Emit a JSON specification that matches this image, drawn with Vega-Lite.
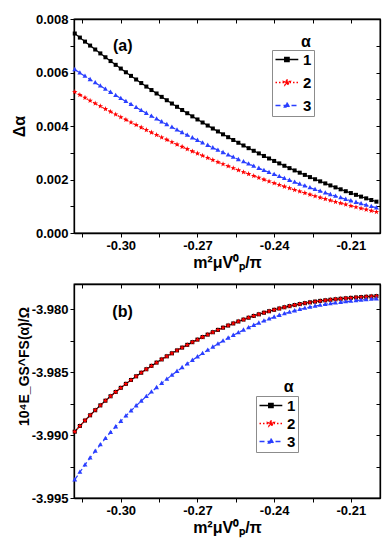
{
"$schema": "https://vega.github.io/schema/vega-lite/v6.json",
"padding": {"left": 10, "top": 12, "right": 8, "bottom": 14},
"config": {
 "locale": {"number": {"decimal": ".", "thousands": ",", "grouping": [3], "currency": ["", ""], "minus": "-"}},
 "view": {"stroke": "black", "strokeWidth": 1.3},
 "axis": {"labelFont": "Liberation Sans", "labelFontWeight": "bold", "labelFontSize": 13, "labelColor": "black", "titleFont": "Liberation Sans", "titleFontWeight": "bold", "titleFontSize": 16, "titleColor": "black", "domainColor": "black", "domainWidth": 1.3, "tickColor": "black", "tickWidth": 1, "tickSize": 4, "grid": false, "labelPadding": 2}
},
"datasets": {
"ta": [
{"x":-0.318,"a":"1","y":0.0074573},{"x":-0.316,"a":"1","y":0.0073055},{"x":-0.314,"a":"1","y":0.0071552},{"x":-0.312,"a":"1","y":0.0070065},{"x":-0.31,"a":"1","y":0.0068594},{"x":-0.308,"a":"1","y":0.0067138},{"x":-0.306,"a":"1","y":0.0065698},{"x":-0.304,"a":"1","y":0.0064273},{"x":-0.302,"a":"1","y":0.0062865},{"x":-0.3,"a":"1","y":0.0061471},
{"x":-0.298,"a":"1","y":0.0060094},{"x":-0.296,"a":"1","y":0.0058732},{"x":-0.294,"a":"1","y":0.0057385},{"x":-0.292,"a":"1","y":0.0056054},{"x":-0.29,"a":"1","y":0.0054739},{"x":-0.288,"a":"1","y":0.005344},{"x":-0.286,"a":"1","y":0.0052156},{"x":-0.284,"a":"1","y":0.0050887},{"x":-0.282,"a":"1","y":0.0049634},{"x":-0.28,"a":"1","y":0.0048397},
{"x":-0.278,"a":"1","y":0.0047176},{"x":-0.276,"a":"1","y":0.004597},{"x":-0.274,"a":"1","y":0.004478},{"x":-0.272,"a":"1","y":0.0043605},{"x":-0.27,"a":"1","y":0.0042446},{"x":-0.268,"a":"1","y":0.0041302},{"x":-0.266,"a":"1","y":0.0040175},{"x":-0.264,"a":"1","y":0.0039062},{"x":-0.262,"a":"1","y":0.0037966},{"x":-0.26,"a":"1","y":0.0036885},
{"x":-0.258,"a":"1","y":0.0035819},{"x":-0.256,"a":"1","y":0.003477},{"x":-0.254,"a":"1","y":0.0033735},{"x":-0.252,"a":"1","y":0.0032717},{"x":-0.25,"a":"1","y":0.0031714},{"x":-0.248,"a":"1","y":0.0030727},{"x":-0.246,"a":"1","y":0.0029755},{"x":-0.244,"a":"1","y":0.0028799},{"x":-0.242,"a":"1","y":0.0027858},{"x":-0.24,"a":"1","y":0.0026933},
{"x":-0.238,"a":"1","y":0.0026024},{"x":-0.236,"a":"1","y":0.0025131},{"x":-0.234,"a":"1","y":0.0024252},{"x":-0.232,"a":"1","y":0.002339},{"x":-0.23,"a":"1","y":0.0022543},{"x":-0.228,"a":"1","y":0.0021712},{"x":-0.226,"a":"1","y":0.0020896},{"x":-0.224,"a":"1","y":0.0020096},{"x":-0.222,"a":"1","y":0.0019312},{"x":-0.22,"a":"1","y":0.0018543},
{"x":-0.218,"a":"1","y":0.001779},{"x":-0.216,"a":"1","y":0.0017053},{"x":-0.214,"a":"1","y":0.0016331},{"x":-0.212,"a":"1","y":0.0015625},{"x":-0.21,"a":"1","y":0.0014934},{"x":-0.208,"a":"1","y":0.0014259},{"x":-0.206,"a":"1","y":0.0013599},{"x":-0.204,"a":"1","y":0.0012955},{"x":-0.202,"a":"1","y":0.0012327},{"x":-0.2,"a":"1","y":0.0011715},
{"x":-0.318,"a":"2","y":0.0052735},{"x":-0.316,"a":"2","y":0.0051645},{"x":-0.314,"a":"2","y":0.0050566},{"x":-0.312,"a":"2","y":0.0049499},{"x":-0.31,"a":"2","y":0.0048443},{"x":-0.308,"a":"2","y":0.0047398},{"x":-0.306,"a":"2","y":0.0046365},{"x":-0.304,"a":"2","y":0.0045343},{"x":-0.302,"a":"2","y":0.0044332},{"x":-0.3,"a":"2","y":0.0043333},
{"x":-0.298,"a":"2","y":0.0042345},{"x":-0.296,"a":"2","y":0.0041369},{"x":-0.294,"a":"2","y":0.0040404},{"x":-0.292,"a":"2","y":0.0039451},{"x":-0.29,"a":"2","y":0.0038509},{"x":-0.288,"a":"2","y":0.0037578},{"x":-0.286,"a":"2","y":0.0036659},{"x":-0.284,"a":"2","y":0.0035751},{"x":-0.282,"a":"2","y":0.0034854},{"x":-0.28,"a":"2","y":0.0033969},
{"x":-0.278,"a":"2","y":0.0033095},{"x":-0.276,"a":"2","y":0.0032233},{"x":-0.274,"a":"2","y":0.0031382},{"x":-0.272,"a":"2","y":0.0030542},{"x":-0.27,"a":"2","y":0.0029714},{"x":-0.268,"a":"2","y":0.0028897},{"x":-0.266,"a":"2","y":0.0028091},{"x":-0.264,"a":"2","y":0.0027297},{"x":-0.262,"a":"2","y":0.0026514},{"x":-0.26,"a":"2","y":0.0025743},
{"x":-0.258,"a":"2","y":0.0024983},{"x":-0.256,"a":"2","y":0.0024234},{"x":-0.254,"a":"2","y":0.0023497},{"x":-0.252,"a":"2","y":0.0022771},{"x":-0.25,"a":"2","y":0.0022057},{"x":-0.248,"a":"2","y":0.0021354},{"x":-0.246,"a":"2","y":0.0020662},{"x":-0.244,"a":"2","y":0.0019982},{"x":-0.242,"a":"2","y":0.0019313},{"x":-0.24,"a":"2","y":0.0018655},
{"x":-0.238,"a":"2","y":0.0018009},{"x":-0.236,"a":"2","y":0.0017374},{"x":-0.234,"a":"2","y":0.0016751},{"x":-0.232,"a":"2","y":0.0016139},{"x":-0.23,"a":"2","y":0.0015538},{"x":-0.228,"a":"2","y":0.0014949},{"x":-0.226,"a":"2","y":0.0014372},{"x":-0.224,"a":"2","y":0.0013805},{"x":-0.222,"a":"2","y":0.001325},{"x":-0.22,"a":"2","y":0.0012707},
{"x":-0.218,"a":"2","y":0.0012174},{"x":-0.216,"a":"2","y":0.0011654},{"x":-0.214,"a":"2","y":0.0011144},{"x":-0.212,"a":"2","y":0.0010646},{"x":-0.21,"a":"2","y":0.0010159},{"x":-0.208,"a":"2","y":0.0009684},{"x":-0.206,"a":"2","y":0.000922},{"x":-0.204,"a":"2","y":0.0008767},{"x":-0.202,"a":"2","y":0.0008326},{"x":-0.2,"a":"2","y":0.0007896},
{"x":-0.318,"a":"3","y":0.0061118},{"x":-0.316,"a":"3","y":0.0059866},{"x":-0.314,"a":"3","y":0.0058628},{"x":-0.312,"a":"3","y":0.0057402},{"x":-0.31,"a":"3","y":0.005619},{"x":-0.308,"a":"3","y":0.005499},{"x":-0.306,"a":"3","y":0.0053803},{"x":-0.304,"a":"3","y":0.005263},{"x":-0.302,"a":"3","y":0.0051469},{"x":-0.3,"a":"3","y":0.0050321},
{"x":-0.298,"a":"3","y":0.0049186},{"x":-0.296,"a":"3","y":0.0048064},{"x":-0.294,"a":"3","y":0.0046955},{"x":-0.292,"a":"3","y":0.0045859},{"x":-0.29,"a":"3","y":0.0044776},{"x":-0.288,"a":"3","y":0.0043706},{"x":-0.286,"a":"3","y":0.0042648},{"x":-0.284,"a":"3","y":0.0041604},{"x":-0.282,"a":"3","y":0.0040573},{"x":-0.28,"a":"3","y":0.0039554},
{"x":-0.278,"a":"3","y":0.0038549},{"x":-0.276,"a":"3","y":0.0037556},{"x":-0.274,"a":"3","y":0.0036577},{"x":-0.272,"a":"3","y":0.003561},{"x":-0.27,"a":"3","y":0.0034656},{"x":-0.268,"a":"3","y":0.0033715},{"x":-0.266,"a":"3","y":0.0032788},{"x":-0.264,"a":"3","y":0.0031873},{"x":-0.262,"a":"3","y":0.0030971},{"x":-0.26,"a":"3","y":0.0030081},
{"x":-0.258,"a":"3","y":0.0029205},{"x":-0.256,"a":"3","y":0.0028343},{"x":-0.254,"a":"3","y":0.0027493},{"x":-0.252,"a":"3","y":0.0026656},{"x":-0.25,"a":"3","y":0.0025831},{"x":-0.248,"a":"3","y":0.002502},{"x":-0.246,"a":"3","y":0.0024222},{"x":-0.244,"a":"3","y":0.0023436},{"x":-0.242,"a":"3","y":0.0022664},{"x":-0.24,"a":"3","y":0.0021904},
{"x":-0.238,"a":"3","y":0.0021157},{"x":-0.236,"a":"3","y":0.0020424},{"x":-0.234,"a":"3","y":0.0019703},{"x":-0.232,"a":"3","y":0.0018995},{"x":-0.23,"a":"3","y":0.00183},{"x":-0.228,"a":"3","y":0.0017618},{"x":-0.226,"a":"3","y":0.0016951},{"x":-0.224,"a":"3","y":0.0016295},{"x":-0.222,"a":"3","y":0.0015652},{"x":-0.22,"a":"3","y":0.0015022},
{"x":-0.218,"a":"3","y":0.0014404},{"x":-0.216,"a":"3","y":0.00138},{"x":-0.214,"a":"3","y":0.0013208},{"x":-0.212,"a":"3","y":0.001263},{"x":-0.21,"a":"3","y":0.0012064},{"x":-0.208,"a":"3","y":0.0011512},{"x":-0.206,"a":"3","y":0.0010972},{"x":-0.204,"a":"3","y":0.0010445},{"x":-0.202,"a":"3","y":0.0009931},{"x":-0.2,"a":"3","y":0.000943}
],
"tb": [
{"x":-0.318,"a":"1","y":-3.98973},{"x":-0.316,"a":"1","y":-3.98928},{"x":-0.314,"a":"1","y":-3.988846},{"x":-0.312,"a":"1","y":-3.988428},{"x":-0.31,"a":"1","y":-3.988026},{"x":-0.308,"a":"1","y":-3.98764},{"x":-0.306,"a":"1","y":-3.98727},{"x":-0.304,"a":"1","y":-3.986916},{"x":-0.302,"a":"1","y":-3.986577},{"x":-0.3,"a":"1","y":-3.986249},
{"x":-0.298,"a":"1","y":-3.985932},{"x":-0.296,"a":"1","y":-3.985626},{"x":-0.294,"a":"1","y":-3.985331},{"x":-0.292,"a":"1","y":-3.985047},{"x":-0.29,"a":"1","y":-3.984771},{"x":-0.288,"a":"1","y":-3.984503},{"x":-0.286,"a":"1","y":-3.984242},{"x":-0.284,"a":"1","y":-3.983989},{"x":-0.282,"a":"1","y":-3.983743},{"x":-0.28,"a":"1","y":-3.983505},
{"x":-0.278,"a":"1","y":-3.983274},{"x":-0.276,"a":"1","y":-3.983051},{"x":-0.274,"a":"1","y":-3.982833},{"x":-0.272,"a":"1","y":-3.982621},{"x":-0.27,"a":"1","y":-3.982415},{"x":-0.268,"a":"1","y":-3.982214},{"x":-0.266,"a":"1","y":-3.982019},{"x":-0.264,"a":"1","y":-3.98183},{"x":-0.262,"a":"1","y":-3.981646},{"x":-0.26,"a":"1","y":-3.981469},
{"x":-0.258,"a":"1","y":-3.981298},{"x":-0.256,"a":"1","y":-3.981133},{"x":-0.254,"a":"1","y":-3.980975},{"x":-0.252,"a":"1","y":-3.980823},{"x":-0.25,"a":"1","y":-3.980677},{"x":-0.248,"a":"1","y":-3.980538},{"x":-0.246,"a":"1","y":-3.980406},{"x":-0.244,"a":"1","y":-3.980281},{"x":-0.242,"a":"1","y":-3.980162},{"x":-0.24,"a":"1","y":-3.98005},
{"x":-0.238,"a":"1","y":-3.979945},{"x":-0.236,"a":"1","y":-3.979847},{"x":-0.234,"a":"1","y":-3.979756},{"x":-0.232,"a":"1","y":-3.979672},{"x":-0.23,"a":"1","y":-3.979594},{"x":-0.228,"a":"1","y":-3.979522},{"x":-0.226,"a":"1","y":-3.979456},{"x":-0.224,"a":"1","y":-3.979396},{"x":-0.222,"a":"1","y":-3.979342},{"x":-0.22,"a":"1","y":-3.979294},
{"x":-0.218,"a":"1","y":-3.979251},{"x":-0.216,"a":"1","y":-3.97921},{"x":-0.214,"a":"1","y":-3.979171},{"x":-0.212,"a":"1","y":-3.979135},{"x":-0.21,"a":"1","y":-3.979101},{"x":-0.208,"a":"1","y":-3.979069},{"x":-0.206,"a":"1","y":-3.97904},{"x":-0.204,"a":"1","y":-3.979012},{"x":-0.202,"a":"1","y":-3.978986},{"x":-0.2,"a":"1","y":-3.978961},
{"x":-0.318,"a":"2","y":-3.98973},{"x":-0.316,"a":"2","y":-3.98928},{"x":-0.314,"a":"2","y":-3.988846},{"x":-0.312,"a":"2","y":-3.988428},{"x":-0.31,"a":"2","y":-3.988026},{"x":-0.308,"a":"2","y":-3.98764},{"x":-0.306,"a":"2","y":-3.98727},{"x":-0.304,"a":"2","y":-3.986916},{"x":-0.302,"a":"2","y":-3.986577},{"x":-0.3,"a":"2","y":-3.986249},
{"x":-0.298,"a":"2","y":-3.985932},{"x":-0.296,"a":"2","y":-3.985626},{"x":-0.294,"a":"2","y":-3.985331},{"x":-0.292,"a":"2","y":-3.985047},{"x":-0.29,"a":"2","y":-3.984771},{"x":-0.288,"a":"2","y":-3.984503},{"x":-0.286,"a":"2","y":-3.984242},{"x":-0.284,"a":"2","y":-3.983989},{"x":-0.282,"a":"2","y":-3.983743},{"x":-0.28,"a":"2","y":-3.983505},
{"x":-0.278,"a":"2","y":-3.983274},{"x":-0.276,"a":"2","y":-3.983051},{"x":-0.274,"a":"2","y":-3.982833},{"x":-0.272,"a":"2","y":-3.982621},{"x":-0.27,"a":"2","y":-3.982415},{"x":-0.268,"a":"2","y":-3.982214},{"x":-0.266,"a":"2","y":-3.982019},{"x":-0.264,"a":"2","y":-3.98183},{"x":-0.262,"a":"2","y":-3.981646},{"x":-0.26,"a":"2","y":-3.981469},
{"x":-0.258,"a":"2","y":-3.981298},{"x":-0.256,"a":"2","y":-3.981133},{"x":-0.254,"a":"2","y":-3.980975},{"x":-0.252,"a":"2","y":-3.980823},{"x":-0.25,"a":"2","y":-3.980677},{"x":-0.248,"a":"2","y":-3.980538},{"x":-0.246,"a":"2","y":-3.980406},{"x":-0.244,"a":"2","y":-3.980281},{"x":-0.242,"a":"2","y":-3.980162},{"x":-0.24,"a":"2","y":-3.98005},
{"x":-0.238,"a":"2","y":-3.979945},{"x":-0.236,"a":"2","y":-3.979847},{"x":-0.234,"a":"2","y":-3.979756},{"x":-0.232,"a":"2","y":-3.979672},{"x":-0.23,"a":"2","y":-3.979594},{"x":-0.228,"a":"2","y":-3.979522},{"x":-0.226,"a":"2","y":-3.979456},{"x":-0.224,"a":"2","y":-3.979396},{"x":-0.222,"a":"2","y":-3.979342},{"x":-0.22,"a":"2","y":-3.979294},
{"x":-0.218,"a":"2","y":-3.979251},{"x":-0.216,"a":"2","y":-3.97921},{"x":-0.214,"a":"2","y":-3.979171},{"x":-0.212,"a":"2","y":-3.979135},{"x":-0.21,"a":"2","y":-3.979101},{"x":-0.208,"a":"2","y":-3.979069},{"x":-0.206,"a":"2","y":-3.97904},{"x":-0.204,"a":"2","y":-3.979012},{"x":-0.202,"a":"2","y":-3.978986},{"x":-0.2,"a":"2","y":-3.978961},
{"x":-0.318,"a":"3","y":-3.993548},{"x":-0.316,"a":"3","y":-3.992947},{"x":-0.314,"a":"3","y":-3.992368},{"x":-0.312,"a":"3","y":-3.99181},{"x":-0.31,"a":"3","y":-3.991273},{"x":-0.308,"a":"3","y":-3.990758},{"x":-0.306,"a":"3","y":-3.990264},{"x":-0.304,"a":"3","y":-3.989791},{"x":-0.302,"a":"3","y":-3.989339},{"x":-0.3,"a":"3","y":-3.988901},
{"x":-0.298,"a":"3","y":-3.988478},{"x":-0.296,"a":"3","y":-3.988069},{"x":-0.294,"a":"3","y":-3.987675},{"x":-0.292,"a":"3","y":-3.987296},{"x":-0.29,"a":"3","y":-3.986928},{"x":-0.288,"a":"3","y":-3.98657},{"x":-0.286,"a":"3","y":-3.986221},{"x":-0.284,"a":"3","y":-3.985884},{"x":-0.282,"a":"3","y":-3.985555},{"x":-0.28,"a":"3","y":-3.985238},
{"x":-0.278,"a":"3","y":-3.984929},{"x":-0.276,"a":"3","y":-3.984631},{"x":-0.274,"a":"3","y":-3.98434},{"x":-0.272,"a":"3","y":-3.984057},{"x":-0.27,"a":"3","y":-3.983782},{"x":-0.268,"a":"3","y":-3.983514},{"x":-0.266,"a":"3","y":-3.983254},{"x":-0.264,"a":"3","y":-3.983001},{"x":-0.262,"a":"3","y":-3.982756},{"x":-0.26,"a":"3","y":-3.982519},
{"x":-0.258,"a":"3","y":-3.982291},{"x":-0.256,"a":"3","y":-3.982071},{"x":-0.254,"a":"3","y":-3.98186},{"x":-0.252,"a":"3","y":-3.981657},{"x":-0.25,"a":"3","y":-3.981462},{"x":-0.248,"a":"3","y":-3.981277},{"x":-0.246,"a":"3","y":-3.9811},{"x":-0.244,"a":"3","y":-3.980934},{"x":-0.242,"a":"3","y":-3.980775},{"x":-0.24,"a":"3","y":-3.980625},
{"x":-0.238,"a":"3","y":-3.980485},{"x":-0.236,"a":"3","y":-3.980354},{"x":-0.234,"a":"3","y":-3.980233},{"x":-0.232,"a":"3","y":-3.980121},{"x":-0.23,"a":"3","y":-3.980016},{"x":-0.228,"a":"3","y":-3.97992},{"x":-0.226,"a":"3","y":-3.979832},{"x":-0.224,"a":"3","y":-3.979752},{"x":-0.222,"a":"3","y":-3.97968},{"x":-0.22,"a":"3","y":-3.979616},
{"x":-0.218,"a":"3","y":-3.979558},{"x":-0.216,"a":"3","y":-3.979504},{"x":-0.214,"a":"3","y":-3.979452},{"x":-0.212,"a":"3","y":-3.979404},{"x":-0.21,"a":"3","y":-3.979358},{"x":-0.208,"a":"3","y":-3.979316},{"x":-0.206,"a":"3","y":-3.979277},{"x":-0.204,"a":"3","y":-3.979239},{"x":-0.202,"a":"3","y":-3.979205},{"x":-0.2,"a":"3","y":-3.979171}
],
"la": [{"x": -0.2992, "y": 0.00699, "t": "(a)"}, {"x": -0.2276, "y": 0.00713, "t": "α"}],
"lb": [{"x": -0.2993, "y": -3.98021, "t": "(b)"}, {"x": -0.2343, "y": -3.9862, "t": "α"}]
},
"spacing": 51,
"bounds": "flush",
"resolve": {"scale": {"x": "independent", "y": "independent", "color": "independent", "strokeDash": "independent"}},
"vconcat": [
{
 "width": 306, "height": 214,
 "resolve": {"axis": {"x": "independent", "y": "independent"}},
 "layer": [
  {"data": {"name": "ta"}, "mark": {"type": "line", "strokeWidth": 1.2},
   "encoding": {
    "x": {"field": "x", "type": "quantitative", "scale": {"domain": [-0.3183, -0.1986], "nice": false, "zero": false},
          "axis": {"orient": "bottom", "title": "m²μV⁰ₚ/π", "titlePadding": 2, "values": [-0.315,-0.3,-0.285,-0.27,-0.255,-0.24,-0.225,-0.21], "labelExpr": "abs(round(datum.value*1000)) % 30 == 0 ? format(datum.value, '.2f') : ''"}},
    "y": {"field": "y", "type": "quantitative", "scale": {"domain": [0, 0.008], "nice": false, "zero": false},
          "axis": {"orient": "left", "title": "Δα", "titlePadding": 8, "values": [0,0.001,0.002,0.003,0.004,0.005,0.006,0.007,0.008], "labelExpr": "round(datum.value*1000) % 2 == 0 ? format(datum.value, '.3f') : ''"}},
    "color": {"field": "a", "type": "nominal", "scale": {"domain": ["1","2","3"], "range": ["#000000", "#ff0000", "#2a3fff"]},
      "legend": {"orient": "none", "legendX": 198, "legendY": 31, "title": null, "strokeColor": "#8c8c8c", "padding": 2, "symbolType": "stroke", "symbolSize": 144, "symbolStrokeWidth": 1.3, "labelFont": "Liberation Sans", "labelFontWeight": "bold", "labelFontSize": 15, "labelColor": "black", "labelOffset": 14, "rowPadding": 7,
       "encode": {"symbols": {"update": {
         "shape": {"signal": "datum.value == '1' ? 'M-1,0L2.8,0M0.53,-0.37L1.27,-0.37L1.27,0.37L0.53,0.37Z' : datum.value == '2' ? 'M-1,0L2.8,0M0.9,-0.55L1.029,-0.178L1.423,-0.17L1.109,0.068L1.223,0.445L0.9,0.22L0.577,0.445L0.691,0.068L0.377,-0.17L0.771,-0.178Z' : 'M-1,0L2.8,0M0.9,-0.5L1.33,0.25L0.47,0.25Z'"},
         "fill": {"signal": "datum.value == '1' ? '#000000' : datum.value == '2' ? '#ff0000' : '#2a3fff'"},
         "strokeDash": {"signal": "datum.value == '1' ? [] : datum.value == '2' ? [1.5,2] : [5,3]"}
       }}}}},
    "strokeDash": {"field": "a", "type": "nominal", "scale": {"domain": ["1","2","3"], "range": [[1,0],[1.5,2],[5,3]]}, "legend": null}
   }},
  {"data": {"name": "ta"}, "transform": [{"filter": "datum.a == '1'"}],
   "mark": {"type": "point", "filled": true, "opacity": 1, "size": 20, "strokeWidth": 0, "color": "#000000", "shape": "M-0.9,-0.9L0.9,-0.9L0.9,0.9L-0.9,0.9Z"},
   "encoding": {
    "x": {"field": "x", "type": "quantitative", "scale": {"domain": [-0.3183, -0.1986], "nice": false, "zero": false},
          "axis": {"orient": "top", "labels": false, "title": null, "tickSize": -4, "values": [-0.315,-0.3,-0.285,-0.27,-0.255,-0.24,-0.225,-0.21]}},
    "y": {"field": "y", "type": "quantitative", "scale": {"domain": [0, 0.008], "nice": false, "zero": false},
          "axis": {"orient": "right", "labels": false, "title": null, "tickSize": -4, "values": [0,0.001,0.002,0.003,0.004,0.005,0.006,0.007,0.008]}}
   }},
  {"data": {"name": "ta"}, "transform": [{"filter": "datum.a == '2'"}],
   "mark": {"type": "point", "filled": true, "opacity": 1, "size": 20, "strokeWidth": 0, "color": "#ff0000", "shape": "M0,-1.3L0.306,-0.421L1.236,-0.402L0.495,0.161L0.764,1.052L0,0.52L-0.764,1.052L-0.495,0.161L-1.236,-0.402L-0.306,-0.421Z"},
   "encoding": {
    "x": {"field": "x", "type": "quantitative", "axis": null},
    "y": {"field": "y", "type": "quantitative", "axis": null}
   }},
  {"data": {"name": "ta"}, "transform": [{"filter": "datum.a == '3'"}],
   "mark": {"type": "point", "filled": true, "opacity": 1, "size": 20, "strokeWidth": 0, "color": "#2a3fff", "shape": "M0,-1.2L1.1,0.75L-1.1,0.75Z"},
   "encoding": {
    "x": {"field": "x", "type": "quantitative", "axis": null},
    "y": {"field": "y", "type": "quantitative", "axis": null}
   }},
  {"data": {"name": "la"}, "mark": {"type": "text", "font": "Liberation Sans", "fontWeight": "bold", "fontSize": 16, "color": "black"},
   "encoding": {
    "x": {"field": "x", "type": "quantitative", "axis": null},
    "y": {"field": "y", "type": "quantitative", "axis": null},
    "text": {"field": "t"}
   }}
 ]
},
{
 "width": 306, "height": 214,
 "resolve": {"axis": {"x": "independent", "y": "independent"}},
 "layer": [
  {"data": {"name": "tb"}, "mark": {"type": "line", "strokeWidth": 1.2},
   "encoding": {
    "x": {"field": "x", "type": "quantitative", "scale": {"domain": [-0.3183, -0.1986], "nice": false, "zero": false},
          "axis": {"orient": "bottom", "title": "m²μV⁰ₚ/π", "titlePadding": 2, "values": [-0.315,-0.3,-0.285,-0.27,-0.255,-0.24,-0.225,-0.21], "labelExpr": "abs(round(datum.value*1000)) % 30 == 0 ? format(datum.value, '.2f') : ''"}},
    "y": {"field": "y", "type": "quantitative", "scale": {"domain": [-3.995, -3.978], "nice": false, "zero": false},
          "axis": {"orient": "left", "title": "10⁴E_GS^FS(α)/Ω", "titleFontSize": 14, "titlePadding": 0, "titleY": 82, "values": [-3.995,-3.9925,-3.99,-3.9875,-3.985,-3.9825,-3.98], "labelExpr": "abs(round(datum.value*10000)) % 50 == 0 ? format(datum.value, '.3f') : ''"}},
    "color": {"field": "a", "type": "nominal", "scale": {"domain": ["1","2","3"], "range": ["#000000", "#ff0000", "#2a3fff"]},
      "legend": {"orient": "none", "legendX": 182, "legendY": 112, "title": null, "strokeColor": "#8c8c8c", "padding": 2, "symbolType": "stroke", "symbolSize": 144, "symbolStrokeWidth": 1.3, "labelFont": "Liberation Sans", "labelFontWeight": "bold", "labelFontSize": 15, "labelColor": "black", "labelOffset": 14, "rowPadding": 2,
       "encode": {"symbols": {"update": {
         "shape": {"signal": "datum.value == '1' ? 'M-1,0L2.8,0M0.53,-0.37L1.27,-0.37L1.27,0.37L0.53,0.37Z' : datum.value == '2' ? 'M-1,0L2.8,0M0.9,-0.55L1.029,-0.178L1.423,-0.17L1.109,0.068L1.223,0.445L0.9,0.22L0.577,0.445L0.691,0.068L0.377,-0.17L0.771,-0.178Z' : 'M-1,0L2.8,0M0.9,-0.5L1.33,0.25L0.47,0.25Z'"},
         "fill": {"signal": "datum.value == '1' ? '#000000' : datum.value == '2' ? '#ff0000' : '#2a3fff'"},
         "strokeDash": {"signal": "datum.value == '1' ? [] : datum.value == '2' ? [1.5,2] : [5,3]"}
       }}}}},
    "strokeDash": {"field": "a", "type": "nominal", "scale": {"domain": ["1","2","3"], "range": [[1,0],[1.5,2],[5,3]]}, "legend": null}
   }},
  {"data": {"name": "tb"}, "transform": [{"filter": "datum.a == '1'"}],
   "mark": {"type": "point", "filled": true, "opacity": 1, "size": 20, "strokeWidth": 0, "color": "#000000", "shape": "M-0.9,-0.9L0.9,-0.9L0.9,0.9L-0.9,0.9Z"},
   "encoding": {
    "x": {"field": "x", "type": "quantitative", "scale": {"domain": [-0.3183, -0.1986], "nice": false, "zero": false},
          "axis": {"orient": "top", "labels": false, "title": null, "tickSize": -4, "values": [-0.315,-0.3,-0.285,-0.27,-0.255,-0.24,-0.225,-0.21]}},
    "y": {"field": "y", "type": "quantitative", "scale": {"domain": [-3.995, -3.978], "nice": false, "zero": false},
          "axis": {"orient": "right", "labels": false, "title": null, "tickSize": -4, "values": [-3.995,-3.9925,-3.99,-3.9875,-3.985,-3.9825,-3.98]}}
   }},
  {"data": {"name": "tb"}, "transform": [{"filter": "datum.a == '2'"}],
   "mark": {"type": "point", "filled": true, "opacity": 1, "size": 20, "strokeWidth": 0, "color": "#ff0000", "shape": "M0,-1.3L0.306,-0.421L1.236,-0.402L0.495,0.161L0.764,1.052L0,0.52L-0.764,1.052L-0.495,0.161L-1.236,-0.402L-0.306,-0.421Z"},
   "encoding": {
    "x": {"field": "x", "type": "quantitative", "axis": null},
    "y": {"field": "y", "type": "quantitative", "axis": null}
   }},
  {"data": {"name": "tb"}, "transform": [{"filter": "datum.a == '3'"}],
   "mark": {"type": "point", "filled": true, "opacity": 1, "size": 20, "strokeWidth": 0, "color": "#2a3fff", "shape": "M0,-1.2L1.1,0.75L-1.1,0.75Z"},
   "encoding": {
    "x": {"field": "x", "type": "quantitative", "axis": null},
    "y": {"field": "y", "type": "quantitative", "axis": null}
   }},
  {"data": {"name": "lb"}, "mark": {"type": "text", "font": "Liberation Sans", "fontWeight": "bold", "fontSize": 16, "color": "black"},
   "encoding": {
    "x": {"field": "x", "type": "quantitative", "axis": null},
    "y": {"field": "y", "type": "quantitative", "axis": null},
    "text": {"field": "t"}
   }}
 ]
}
]
}
